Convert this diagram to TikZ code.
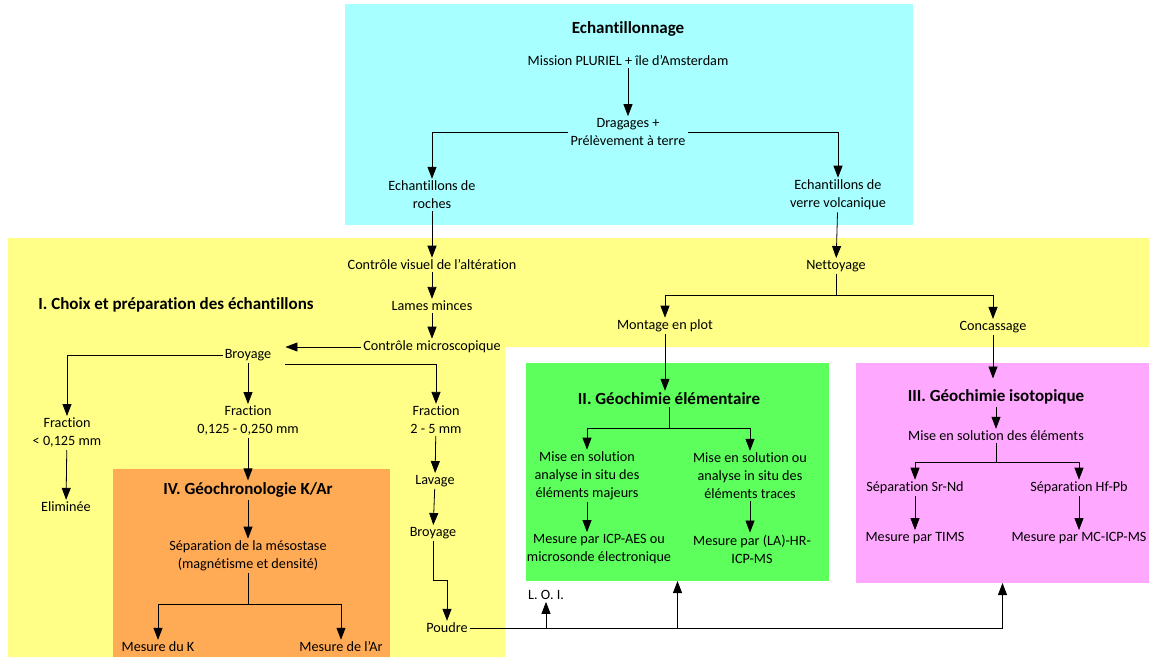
\documentclass[tikz,border=0pt]{standalone}
\usepackage{fontspec}
\setmainfont{Carlito}[Ligatures=NoCommon]
\usetikzlibrary{arrows.meta,calc}
\definecolor{cyanc}{HTML}{A8FFFF}
\definecolor{yellowc}{HTML}{FFFF88}
\definecolor{greenc}{HTML}{5CFF5C}
\definecolor{pinkc}{HTML}{FFA8FF}
\definecolor{orangec}{HTML}{FFAA55}
\begin{document}
\begin{tikzpicture}[x=1pt,y=-1pt,
  txt/.style={font=\fontsize{14.2}{18}\selectfont, align=center, inner sep=2pt},
  ttl/.style={font=\fontsize{17}{20}\bfseries\selectfont, inner sep=2pt},
  box/.style={inner sep=0pt, outer sep=0pt, anchor=north west},
  ln/.style={draw=black, line width=0.8pt},
  arr/.style={draw=black, line width=0.8pt, -{Triangle[width=9pt,length=12pt]}}]
\useasboundingbox (0,0) rectangle (1149,657);
% backgrounds
\fill[yellowc] (8,238) -- (1149,238) -- (1149,347) -- (505,347) -- (505,657) -- (8,657) -- cycle;
\node[box, fill=cyanc, minimum width=568pt, minimum height=221pt] (cyanbox) at (345,4) {};
\node[box, fill=greenc, minimum width=303pt, minimum height=218pt] (green) at (526,363) {};
\node[box, fill=pinkc, minimum width=293pt, minimum height=220pt] (pink) at (856,363) {};
\node[box, fill=orangec, minimum width=277pt, minimum height=188pt] (orange) at (113,469) {};
% Echantillonnage
\node[ttl] (ech) at (628,29) {Echantillonnage};
\node[txt] (mission) at (628,61) {Mission PLURIEL + île d’Amsterdam};
\node[txt] (drag) at (628,132) {Dragages +\\Prélèvement à terre};
\node[txt] (roches) at (432,195) {Echantillons de\\roches};
\node[txt] (verre) at (838,195) {Echantillons de\\verre volcanique};
% I
\node[ttl] (choix) at (176,305) {I. Choix et préparation des échantillons};
\node[txt] (ctrlv) at (432,265) {Contrôle visuel de l’altération};
\node[txt] (lames) at (432,306) {Lames minces};
\node[txt] (ctrlm) at (432,347) {Contrôle microscopique};
\node[txt] (broy) at (248,355) {Broyage};
\node[txt] (frac1) at (67,433) {Fraction\\< 0,125 mm};
\node[txt] (frac2) at (248,421) {Fraction\\0,125 - 0,250 mm};
\node[txt] (frac3) at (436,420) {Fraction\\2 - 5 mm};
\node[txt] (elim) at (66,507) {Eliminée};
\node[txt] (lavage) at (435,481) {Lavage};
\node[txt] (broy2) at (433,533) {Broyage};
\node[txt] (poudre) at (447,628) {Poudre};
% IV
\node[ttl] (geochr) at (248,490) {IV. Géochronologie K/Ar};
\node[txt] (sep) at (248,556) {Séparation de la mésostase\\(magnétisme et densité)};
\node[txt] (mesK) at (158,647) {Mesure du K};
\node[txt] (mesAr) at (341,647) {Mesure de l’Ar};
% right
\node[txt] (nett) at (836,266) {Nettoyage};
\node[txt] (montage) at (665,326) {Montage en plot};
\node[txt] (conc) at (993,327) {Concassage};
% II
\node[ttl] (geoel) at (669,399) {II. Géochimie élémentaire};
\node[txt] (maj) at (587,476) {Mise en solution\\analyse in situ des\\éléments majeurs};
\node[txt] (tra) at (750,476) {Mise en solution ou\\analyse in situ des\\éléments traces};
\node[txt] (icpaes) at (599,549) {Mesure par ICP-AES ou\\microsonde électronique};
\node[txt] (lahr) at (752,549) {Mesure par (LA)-HR-\\ICP-MS};
\node[txt] (loi) at (546,595) {L. O. I.};
% III
\node[ttl] (geoiso) at (996,397) {III. Géochimie isotopique};
\node[txt] (misesol) at (996,436) {Mise en solution des éléments};
\node[txt] (srnd) at (915,488) {Séparation Sr-Nd};
\node[txt] (hfpb) at (1079,488) {Séparation Hf-Pb};
\node[txt] (tims) at (915,538) {Mesure par TIMS};
\node[txt] (mcicp) at (1079,538) {Mesure par MC-ICP-MS};
% junctions
\coordinate (bk1) at (433,580);
\coordinate (sj) at (248,604);
\coordinate (nj) at (836,295);
\coordinate (gj) at (669,428);
\coordinate (ij) at (996,462);
% connectors
\draw[arr] (mission) -- (drag);
\draw[arr] (drag.west) -| (roches.north);
\draw[arr] (drag.east) -| (verre.north);
\draw[arr] (roches) -- (ctrlv);
\draw[arr] (verre) -- (nett);
\draw[arr] (ctrlv) -- (lames);
\draw[arr] (lames) -- (ctrlm);
\draw[arr] (ctrlm.west) -- ($(ctrlm.west -| broy.east)+(12,0)$);
\draw[arr] (broy.west) -| (frac1.north);
\draw[arr] (broy.south) -- (frac2.north);
\draw[arr] ($(broy.east)+(12,9)$) -| (frac3.north);
\draw[arr] (frac1) -- (elim);
\draw[arr] (frac2) -- (geochr);
\draw[arr] (frac3) -- (lavage);
\draw[arr] (lavage) -- (broy2);
\draw[arr] (broy2.south) -- (bk1) -| (poudre.north);
\draw[arr] (geochr) -- (sep);
\draw[ln] (sep.south) -- (sj);
\draw[arr] (sj) -| (mesK.north);
\draw[arr] (sj) -| (mesAr.north);
\draw[ln] (nett.south) -- (nj);
\draw[arr] (nj) -| (montage.north);
\draw[arr] (nj) -| (conc.north);
\draw[arr] (montage.south) -- (montage.south |- geoel.north);
\draw[ln] (geoel.south) -- (gj);
\draw[arr] (gj) -| (maj.north);
\draw[arr] (gj) -| (tra.north);
\draw[arr] (maj.south) -- (maj.south |- icpaes.north);
\draw[arr] (tra.south) -- (tra.south |- lahr.north);
\draw[arr, shorten >=9pt] (conc.south) -- (conc.south |- geoiso.north);
\draw[arr] (geoiso) -- (misesol);
\draw[ln] (misesol.south) -- (ij);
\draw[arr] (ij) -| (srnd.north);
\draw[arr] (ij) -| (hfpb.north);
\draw[arr] (srnd) -- (tims);
\draw[arr] (hfpb) -- (mcicp);
\draw[ln] (poudre.east) -- (poudre.east -| pink.south);
\draw[arr] (poudre.east -| loi.south) -- (loi.south);
\draw[arr] (poudre.east -| green.south) -- (green.south);
\draw[arr] (poudre.east -| pink.south) -- (pink.south);
\end{tikzpicture}
\end{document}
